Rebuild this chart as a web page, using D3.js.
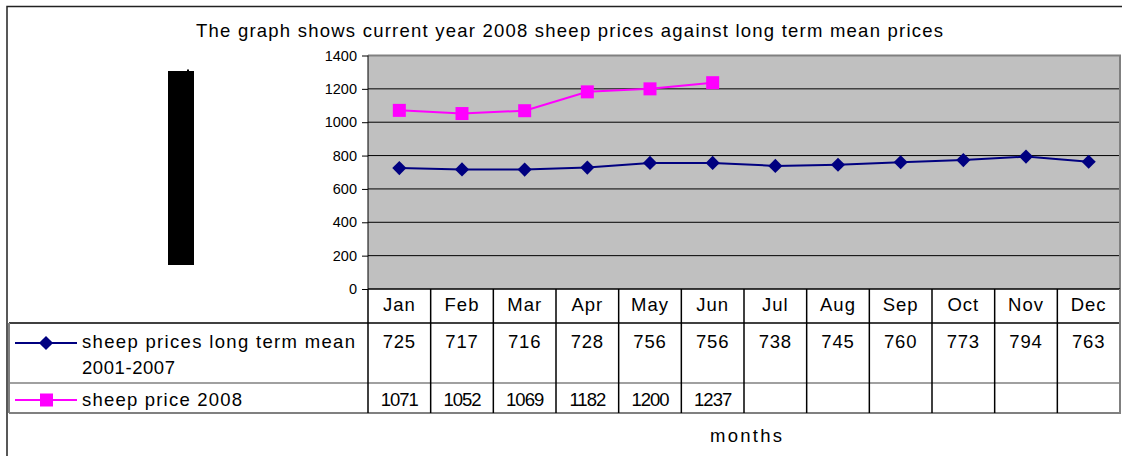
<!DOCTYPE html>
<html>
<head>
<meta charset="utf-8">
<script src="https://cdn.jsdelivr.net/npm/d3@7"></script>
<style>
  html, body { margin: 0; padding: 0; background: #fff; }
  svg { display: block; font-family: "Liberation Sans", Arial, sans-serif; }
</style>
</head>
<body>
<svg id="chart" width="1122" height="456"></svg>
<script>
// ---- data ----
const months = ["Jan","Feb","Mar","Apr","May","Jun","Jul","Aug","Sep","Oct","Nov","Dec"];
const meanPrices = [725,717,716,728,756,756,738,745,760,773,794,763];
const prices2008 = [1071,1052,1069,1182,1200,1237,null,null,null,null,null,null];
const yTicks = [0,200,400,600,800,1000,1200,1400];
const titleText = "The graph shows current year 2008 sheep prices against long term mean prices";
const seriesNames = [["sheep prices long term mean","2001-2007"],["sheep price 2008"]];
const xAxisTitle = "months";

// ---- layout ----
const svg = d3.select("#chart");
const plot = {left: 368, right: 1120, top: 55.5, bottom: 289};
const x = d3.scaleBand().domain(months).range([plot.left, plot.right]);
const y = d3.scaleLinear().domain([0, 1400]).range([plot.bottom, plot.top]);
const tableRows = {header: [289, 323], r1: [323, 383], r2: [383, 413]};
const legendLeft = 9;
const FS = 18.5;

// outer frame
svg.append("path").attr("d", "M7,456 L7,6.5 L1122,6.5")
  .attr("fill", "none").attr("stroke", "#222").attr("stroke-width", 1.5);

// title
svg.append("text").attr("x", 196).attr("y", 37)
  .attr("font-size", FS).attr("fill", "#000")
  .attr("textLength", 747).attr("lengthAdjust", "spacing")
  .text(titleText);

// black box artifact
svg.append("rect").attr("x", 168).attr("y", 71).attr("width", 26).attr("height", 194).attr("fill", "#000");
svg.append("rect").attr("x", 187).attr("y", 69.5).attr("width", 2).attr("height", 2).attr("fill", "#000");

// plot area
svg.append("rect").attr("x", plot.left).attr("y", plot.top)
  .attr("width", plot.right - plot.left).attr("height", plot.bottom - plot.top)
  .attr("fill", "#c0c0c0");

// gridlines
svg.append("g").selectAll("line").data(yTicks.filter(d => d > 0 && d < 1400)).join("line")
  .attr("x1", plot.left).attr("x2", plot.right)
  .attr("y1", d => y(d)).attr("y2", d => y(d))
  .attr("stroke", "#000").attr("stroke-width", 1);

// plot border (top, right)
svg.append("path").attr("d", `M${plot.left},${plot.top} L${plot.right},${plot.top} L${plot.right},${plot.bottom}`)
  .attr("fill", "none").attr("stroke", "#808080").attr("stroke-width", 2);

// y axis
const yAxis = d3.axisLeft(y).tickValues(yTicks).tickSize(6).tickPadding(5).tickFormat(d3.format("d"));
const yg = svg.append("g").attr("transform", `translate(${plot.left},0)`).call(yAxis);
yg.select(".domain").attr("stroke", "#000").attr("d", `M0,${plot.top}V${plot.bottom}`);
yg.selectAll(".tick line").attr("stroke", "#000");
yg.selectAll(".tick text").attr("font-size", 14.5).attr("fill", "#000")
  .attr("font-family", "Liberation Sans, Arial, sans-serif");

// x axis line
svg.append("line").attr("x1", plot.left).attr("x2", plot.right)
  .attr("y1", plot.bottom).attr("y2", plot.bottom).attr("stroke", "#000").attr("stroke-width", 1.5);

// ---- series ----
const cx = d => x(d) + x.bandwidth() / 2;
const line = d3.line().defined(d => d.v != null).x(d => cx(d.m)).y(d => y(d.v));
const meanData = months.map((m, i) => ({m, v: meanPrices[i]}));
const d2008 = months.map((m, i) => ({m, v: prices2008[i]}));

const navy = "#000080", pink = "#ff00ff";

svg.append("path").datum(meanData).attr("d", line).attr("fill", "none")
  .attr("stroke", navy).attr("stroke-width", 2);
svg.append("g").selectAll("path").data(meanData).join("path")
  .attr("d", d3.symbol().type(d3.symbolSquare).size(100)())
  .attr("transform", d => `translate(${cx(d.m)},${y(d.v)}) rotate(45)`)
  .attr("fill", navy);

svg.append("path").datum(d2008).attr("d", line).attr("fill", "none")
  .attr("stroke", pink).attr("stroke-width", 2);
svg.append("g").selectAll("rect").data(d2008.filter(d => d.v != null)).join("rect")
  .attr("x", d => cx(d.m) - 6.5).attr("y", d => y(d.v) - 6.5)
  .attr("width", 13).attr("height", 13).attr("fill", pink);

// ---- data table ----
const tbl = svg.append("g");
tbl.append("line").attr("x1", legendLeft).attr("x2", plot.right).attr("y1", tableRows.r1[0]).attr("y2", tableRows.r1[0])
  .attr("stroke", "#000").attr("stroke-width", 1.5);
tbl.append("line").attr("x1", legendLeft).attr("x2", plot.right).attr("y1", tableRows.r2[0]).attr("y2", tableRows.r2[0])
  .attr("stroke", "#808080").attr("stroke-width", 1.5);
tbl.append("line").attr("x1", legendLeft).attr("x2", plot.right + 1).attr("y1", tableRows.r2[1]).attr("y2", tableRows.r2[1])
  .attr("stroke", "#808080").attr("stroke-width", 2);
tbl.append("line").attr("x1", legendLeft).attr("x2", legendLeft).attr("y1", tableRows.r1[0]).attr("y2", tableRows.r2[1])
  .attr("stroke", "#808080").attr("stroke-width", 2);
tbl.append("line").attr("x1", plot.right).attr("x2", plot.right).attr("y1", tableRows.header[0]).attr("y2", tableRows.r2[1])
  .attr("stroke", "#808080").attr("stroke-width", 2);
const bounds = months.map(m => x(m));
tbl.selectAll("line.v").data(bounds).join("line").attr("class", "v")
  .attr("x1", d => d).attr("x2", d => d)
  .attr("y1", tableRows.header[0]).attr("y2", tableRows.r2[1])
  .attr("stroke", "#000").attr("stroke-width", 1.5);

// month labels
tbl.selectAll("text.m").data(months).join("text").attr("class", "m")
  .attr("x", d => cx(d)).attr("y", 311).attr("text-anchor", "middle")
  .attr("font-size", FS).attr("letter-spacing", 1).text(d => d);
// values
tbl.selectAll("text.v1").data(meanData).join("text").attr("class", "v1")
  .attr("x", d => cx(d.m)).attr("y", 348).attr("text-anchor", "middle")
  .attr("font-size", FS).attr("letter-spacing", 0.8).text(d => d.v);
tbl.selectAll("text.v2").data(d2008.filter(d => d.v != null)).join("text").attr("class", "v2")
  .attr("x", d => cx(d.m)).attr("y", 406).attr("text-anchor", "middle")
  .attr("font-size", FS).attr("letter-spacing", -1).text(d => d.v);

// legend keys
const keyY1 = 343, keyY2 = 400;
tbl.append("line").attr("x1", 15).attr("x2", 77).attr("y1", keyY1).attr("y2", keyY1).attr("stroke", navy).attr("stroke-width", 2);
tbl.append("path").attr("d", d3.symbol().type(d3.symbolSquare).size(100)())
  .attr("transform", `translate(46,${keyY1}) rotate(45)`).attr("fill", navy);
tbl.append("line").attr("x1", 15).attr("x2", 77).attr("y1", keyY2).attr("y2", keyY2).attr("stroke", pink).attr("stroke-width", 2);
tbl.append("rect").attr("x", 40).attr("y", keyY2 - 6.5).attr("width", 13).attr("height", 13).attr("fill", pink);

tbl.append("text").attr("x", 82).attr("y", 348).attr("font-size", FS)
  .attr("textLength", 273).attr("lengthAdjust", "spacing").text(seriesNames[0][0]);
tbl.append("text").attr("x", 82).attr("y", 374).attr("font-size", FS)
  .attr("textLength", 93).attr("lengthAdjust", "spacing").text(seriesNames[0][1]);
tbl.append("text").attr("x", 82).attr("y", 406).attr("font-size", FS)
  .attr("textLength", 160).attr("lengthAdjust", "spacing").text(seriesNames[1][0]);

// x axis title
svg.append("text").attr("x", 710).attr("y", 442)
  .attr("font-size", FS).attr("textLength", 72).attr("lengthAdjust", "spacing").text(xAxisTitle);
</script>
</body>
</html>
